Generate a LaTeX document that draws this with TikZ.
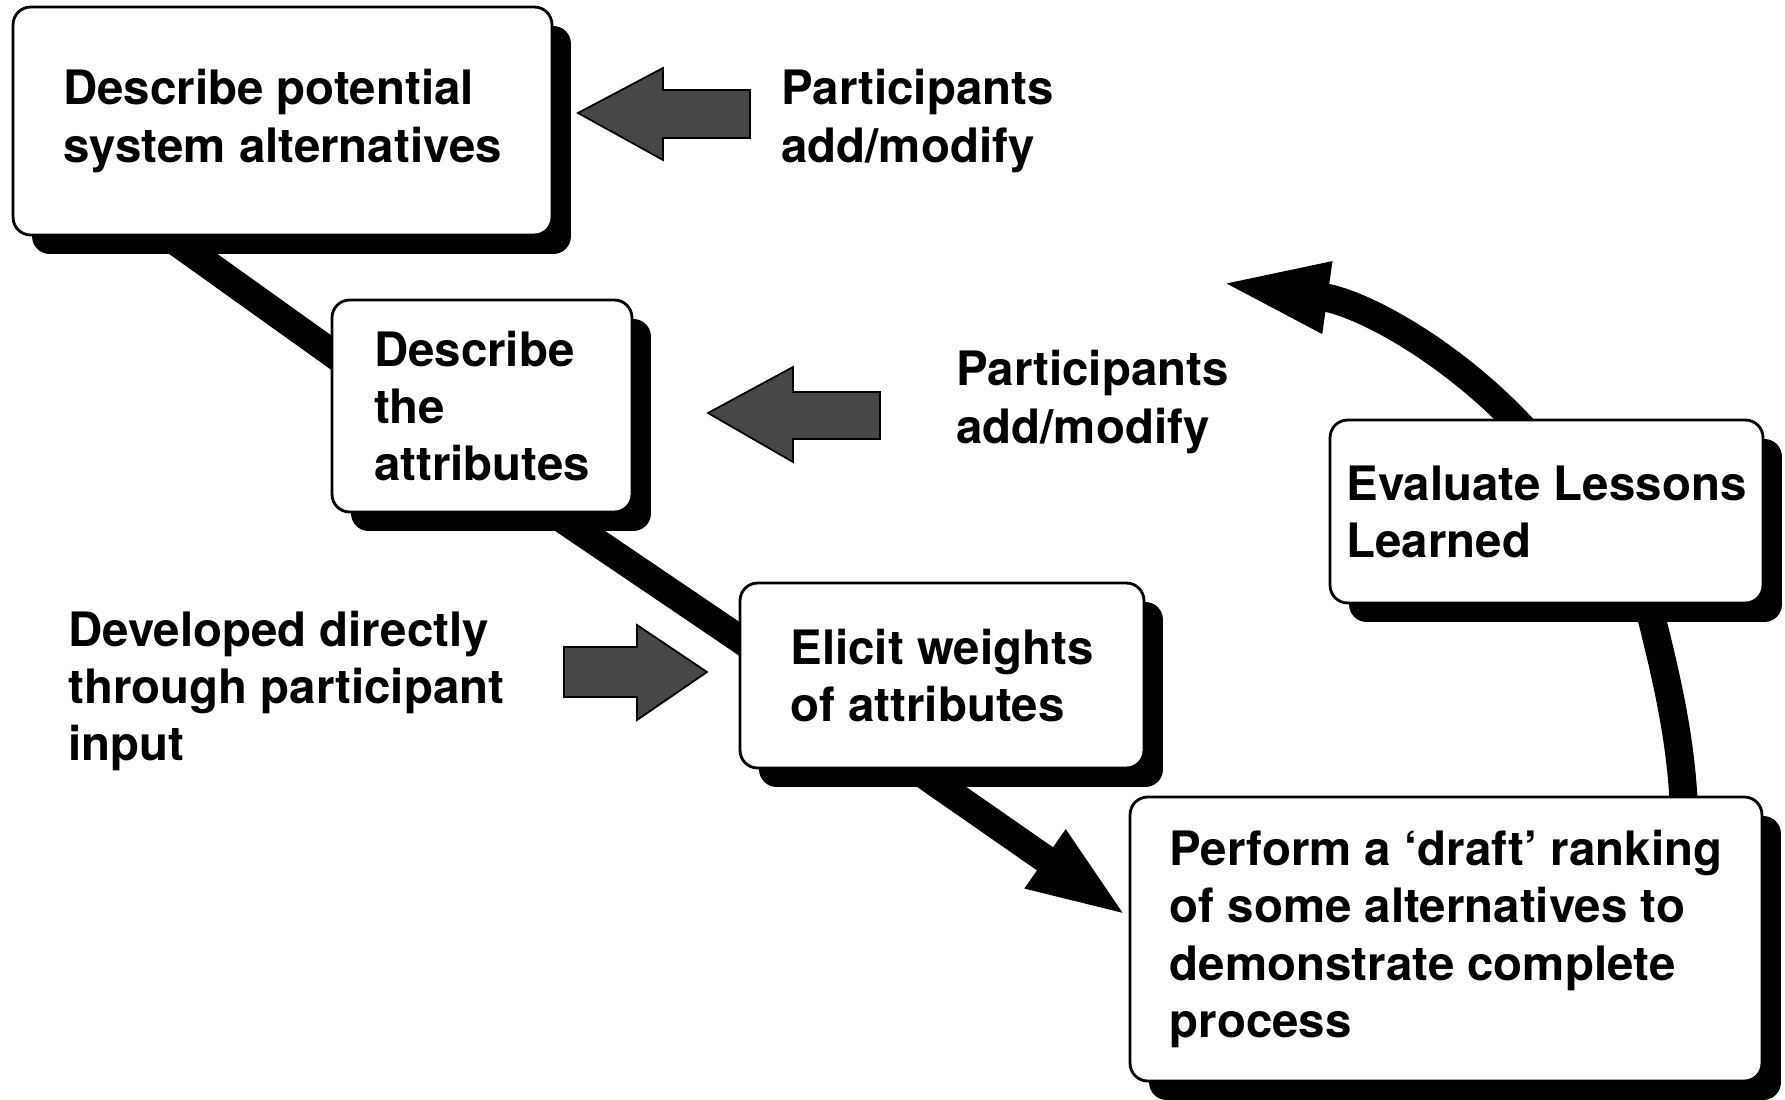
\documentclass[tikz,border=0pt]{standalone}
\usepackage{fontspec}
\setmainfont{TeX Gyre Heros}
\usetikzlibrary{arrows.meta}
\usetikzlibrary{shadows}
\pgfdeclarelayer{background}
\pgfsetlayers{background,main}

\begin{document}
\begin{tikzpicture}[x=0.02cm,y=-0.02cm,
	every node/.style={font=\fontsize{27}{32.5}\selectfont\bfseries},
	stepbox/.style={draw,line width=1.6pt,rounded corners=10pt,fill=white,inner sep=0pt,align=left,
		drop shadow={shadow xshift=0.38cm,shadow yshift=-0.38cm,fill=black,opacity=1}},
	note/.style={inner sep=0pt,align=left,anchor=west},
	link/.style={line width=16pt},
	blockarrow/.style={draw,line width=1pt,fill=black!72}]
				    \useasboundingbox (0,0) rectangle (1785,1099);
				    % Place nodes
				    \node [stepbox,minimum width=10.78cm,minimum height=4.56cm] (alts) at (282.5,121) {Describe potential\\system alternatives};
				    \node [stepbox,minimum width=6cm,minimum height=4.24cm] (attrs) at (482,406) {Describe\\the\\attributes};
				    \node [stepbox,minimum width=8.08cm,minimum height=3.7cm] (weights) at (942,675.5) {Elicit weights\\of attributes};
				    \node [stepbox,minimum width=8.66cm,minimum height=3.66cm] (lessons) at (1546.5,511.5) {Evaluate Lessons\\Learned};
				    \node [stepbox,minimum width=12.64cm,minimum height=5.68cm] (draft) at (1446,939) {Perform a ‘draft’ ranking\\of some alternatives to\\demonstrate complete\\process};
				    \node [note] (add1) at (781,121) {Participants\\add/modify};
				    \node [note] (add2) at (956,402) {Participants\\add/modify};
				    \node [note] (devel) at (68,691) {Developed directly\\through participant\\input};
				    \coordinate (loop) at (1216,282);

					\draw [blockarrow] (578,113) -- (663,68) -- (663,90) -- (750,90) -- (750,138) -- (663,138) -- (663,160) -- cycle;
					\draw [blockarrow] (708,413) -- (793,367) -- (793,392) -- (880,392) -- (880,439) -- (793,439) -- (793,462) -- cycle;
					\draw [blockarrow] (564,647) -- (637,647) -- (637,625) -- (707,672) -- (637,720) -- (637,697) -- (564,697) -- cycle;

					\begin{pgfonlayer}{background}
					\draw [link] ([shift={(164,5)}]alts.south west) -- ([shift={(18,-41)}]attrs.west);
					\draw [link] ([shift={(228,3)}]attrs.south west) -- ([shift={(15,-27)}]weights.west);
					\draw [link,-{Triangle[length=58pt,width=36pt]}] ([shift={(185,5)}]weights.south west) -- ([shift={(0,-22)}]draft.west);
					\draw [link] ([shift={(101,-3)}]lessons.south) .. controls (1662,660) and (1682,735) .. ([shift={(238,18)}]draft.north);
					\draw [link,-{Triangle[length=64pt,width=36pt]}] ([shift={(-10,25)}]lessons.north) .. controls (1465,360) and (1366,303) .. (loop);
					\end{pgfonlayer}
				\end{tikzpicture}
\end{document}
